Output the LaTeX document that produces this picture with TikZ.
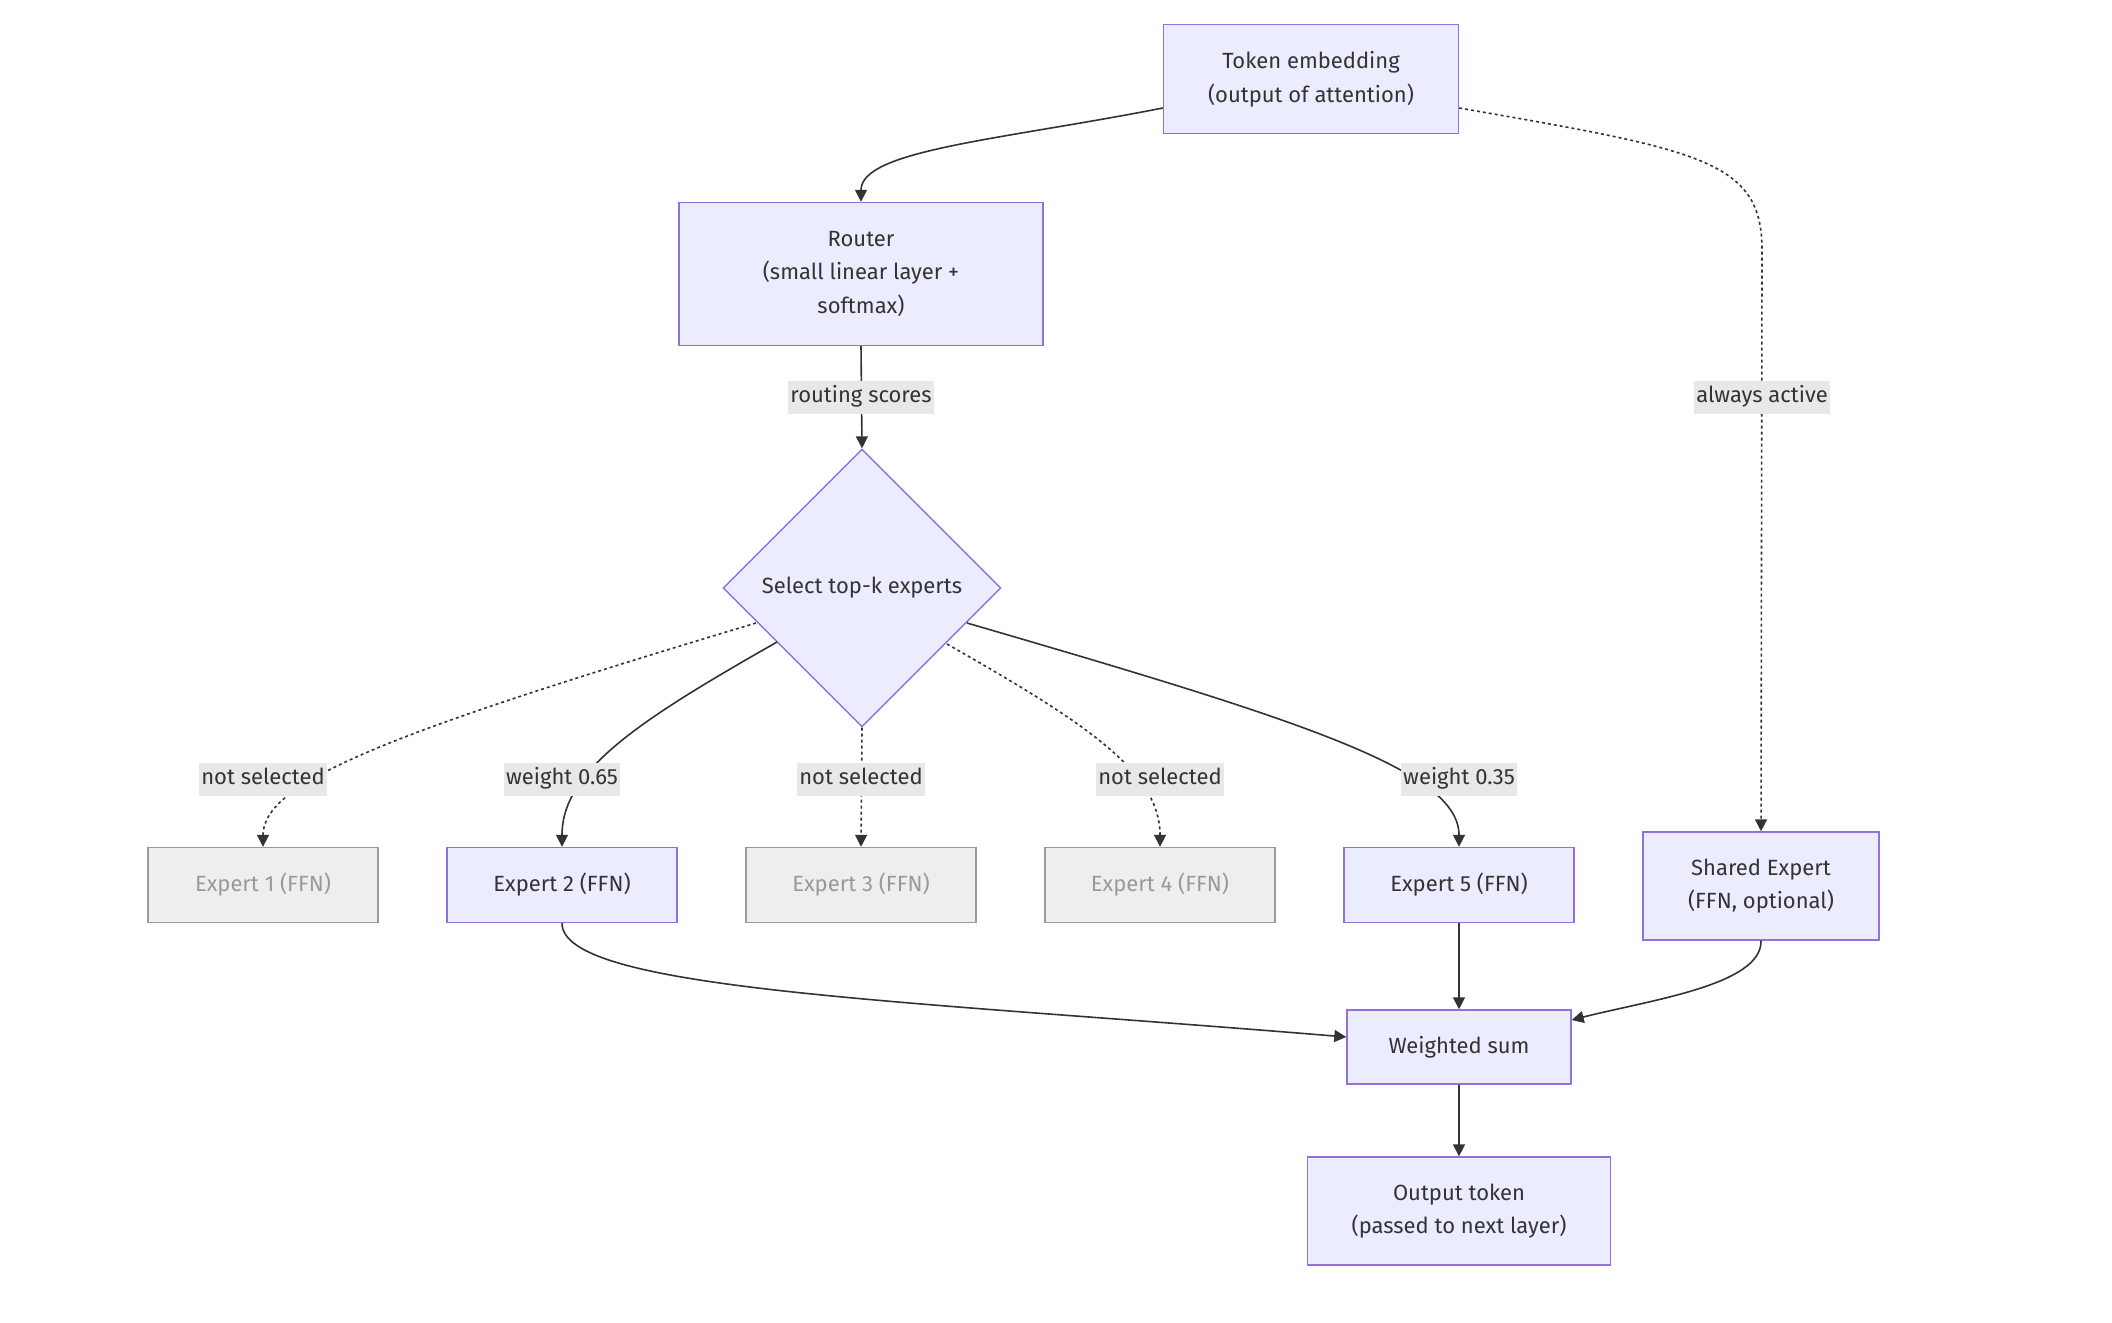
\documentclass[tikz,border=0pt]{standalone}
\usepackage{fontspec}
\setmainfont{Fira Sans}
\usetikzlibrary{shapes.geometric,arrows.meta,calc}
\definecolor{nfill}{HTML}{ECECFF}
\definecolor{nline}{HTML}{9370DB}
\definecolor{ink}{HTML}{333333}
\definecolor{gfill}{HTML}{EEEEEE}
\definecolor{gline}{HTML}{999999}
\definecolor{lblbg}{HTML}{E8E8E8}
\begin{document}
\begin{tikzpicture}[x=0.5pt,y=-0.5pt,
  font=\fontsize{11}{16.8}\selectfont,
  box/.style={draw=nline, fill=nfill, line width=0.7pt, text=ink, align=center, inner sep=0pt},
  ebox/.style={box, minimum width=115pt, minimum height=37.5pt},
  gbox/.style={draw=gline, fill=gfill, line width=0.7pt, text=gline, align=center, inner sep=0pt, minimum width=115pt, minimum height=37.5pt},
  lbl/.style={fill=lblbg, text=ink, inner xsep=1pt, inner ysep=0pt, text height=8pt, text depth=2.5pt, minimum height=16.5pt},
  conn/.style={draw=ink, line width=0.8pt, -{Triangle[length=6pt,width=6pt]}},
  dotconn/.style={conn, dash pattern=on 1.5pt off 1.5pt},
]
\useasboundingbox (0,0) rectangle (2112,1322);

% nodes
\node[box, minimum width=147.5pt, minimum height=54.5pt] (tok) at (1311,79) {Token embedding\\(output of attention)};
\node[box, minimum width=182pt, minimum height=71.5pt] (router) at (861,274) {Router\\(small linear layer +\\softmax)};
\node[box, diamond, aspect=1, minimum width=139pt, minimum height=139pt] (sel) at (862,588) {Select top-k experts};
\node[gbox] (e1) at (263,885) {Expert 1 (FFN)};
\node[ebox] (e2) at (562,885) {Expert 2 (FFN)};
\node[gbox] (e3) at (861,885) {Expert 3 (FFN)};
\node[gbox] (e4) at (1160,885) {Expert 4 (FFN)};
\node[ebox] (e5) at (1459,885) {Expert 5 (FFN)};
\node[box, minimum width=118pt, minimum height=54pt] (shared) at (1761,886) {Shared Expert\\(FFN, optional)};
\node[box, minimum width=112pt, minimum height=37pt] (wsum) at (1459,1047) {Weighted sum};
\node[box, minimum width=151.5pt, minimum height=54pt] (out) at (1459,1211) {Output token\\(passed to next layer)};

% connectors
\draw[conn] ($(tok.west)+(0,29)$) .. controls (1000,140) and (861,150) .. (router.north);
\draw[dotconn] ($(tok.east)+(0,29)$) .. controls (1700,150) and (1762,160) .. (1762,250) -- (shared.north);
\draw[conn] (router.south) -- (sel.north);
\draw[dotconn] ($(sel)+(-106,35)$) .. controls (400,730) and (263,780) .. (e1.north);
\draw[conn] ($(sel)+(-85,54)$) .. controls (640,720) and (562,770) .. (e2.north);
\draw[dotconn] (sel.south) -- (e3.north);
\draw[dotconn] ($(sel)+(85,56)$) .. controls (1080,720) and (1160,770) .. (e4.north);
\draw[conn] ($(sel)+(105,35)$) .. controls (1300,720) and (1459,770) .. (e5.north);
\draw[conn] (e2.south) .. controls (562,990) and (900,1000) .. ($(wsum.west)+(0,-10)$);
\draw[conn] (e5.south) -- (wsum.north);
\draw[conn] (shared.south) .. controls (1762,985) and (1650,1000) .. ($(wsum.east)+(0,-27)$);
\draw[conn] (wsum.south) -- (out.north);

% edge labels
\node[lbl] (l0) at (861,397) {routing scores};
\node[lbl] (l6) at (1762,397) {always active};
\node[lbl] (l1) at (263,779) {not selected};
\node[lbl] (l2) at (562,779) {weight 0.65};
\node[lbl] (l3) at (861,779) {not selected};
\node[lbl] (l4) at (1160,779) {not selected};
\node[lbl] (l5) at (1459,779) {weight 0.35};
\end{tikzpicture}
\end{document}
